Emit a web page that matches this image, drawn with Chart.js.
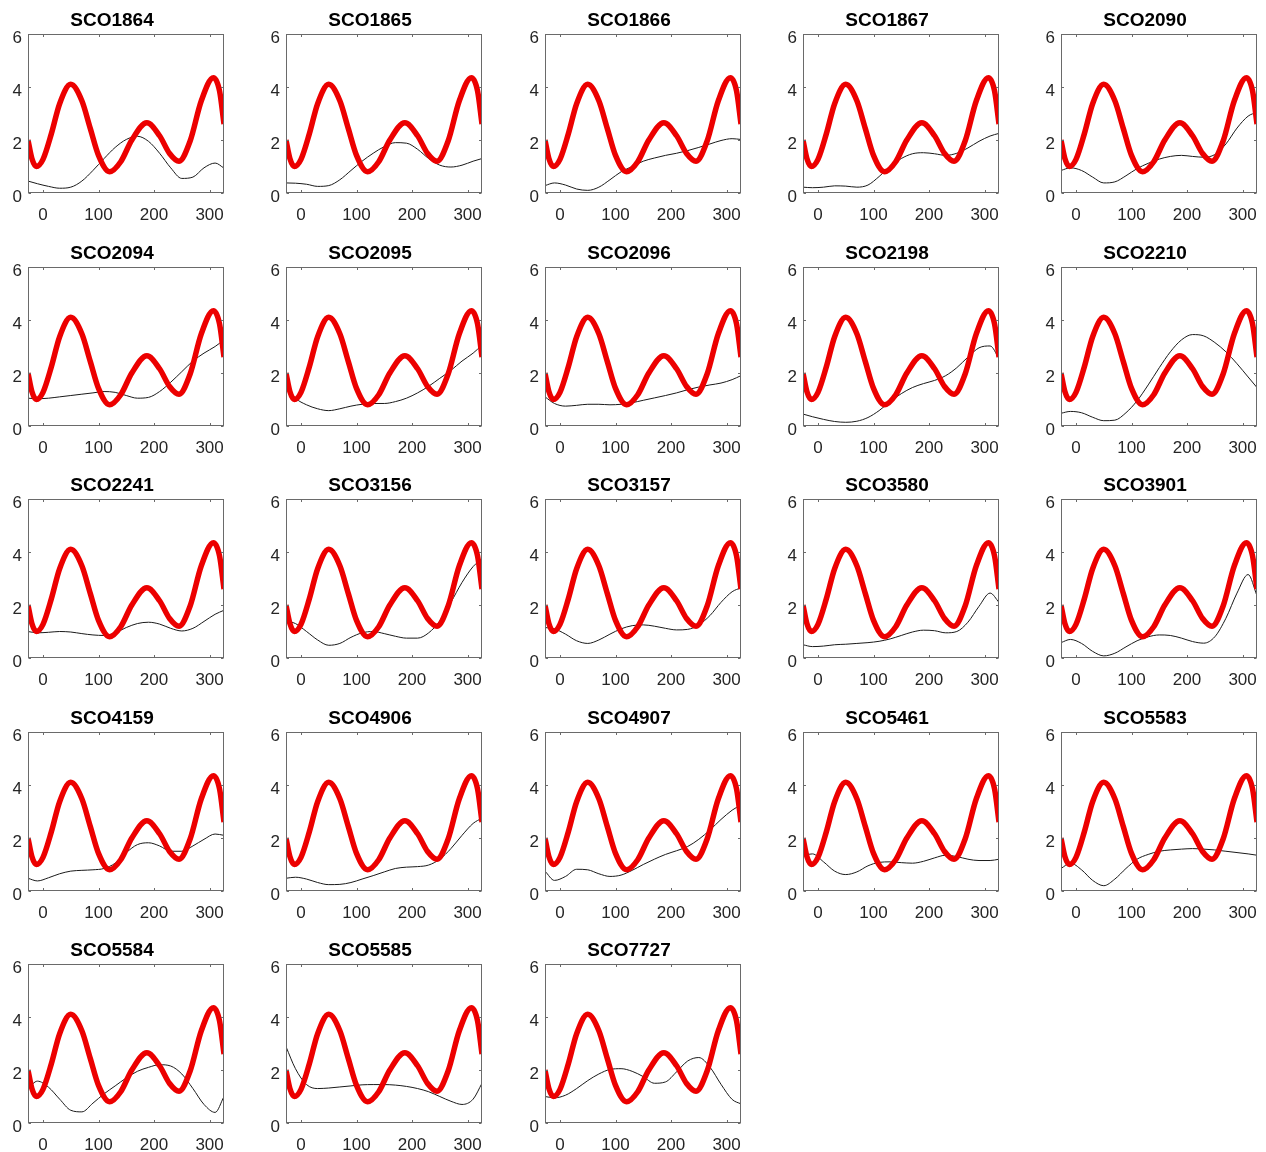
<!DOCTYPE html>
<html>
<head>
<meta charset="utf-8">
<script src="https://cdn.jsdelivr.net/npm/chart.js@4.4.1/dist/chart.umd.min.js"></script>
<style>
  html, body { margin: 0; padding: 0; background: #fff; }
  #wrap { position: relative; width: 1266px; height: 1152px; background: #fff; overflow: hidden; }
  #wrap canvas { position: absolute; }
</style>
</head>
<body>
<div id="wrap"></div>
<script>
// ---------- data ----------
const xTicks = [0, 100, 200, 300];
const yTicks = [0, 2, 4, 6];
const xGrid = [-27, -10, 10, 30, 50, 70, 90, 110, 130, 150, 170, 190, 210, 230, 250, 270, 290, 310, 326];

const redX = [-27, -20, -12, 0, 15, 30, 50, 70, 85, 100, 120, 140, 160, 187, 210, 228, 245, 265, 285, 307, 318, 326];
const redY = [2.0, 1.3, 1.0, 1.27, 2.23, 3.37, 4.1, 3.48, 2.45, 1.42, 0.8, 1.18, 2.0, 2.65, 2.16, 1.49, 1.2, 1.96, 3.47, 4.35, 3.85, 2.6];

const panelNames = ["SCO1864","SCO1865","SCO1866","SCO1867","SCO2090",
                    "SCO2094","SCO2095","SCO2096","SCO2198","SCO2210",
                    "SCO2241","SCO3156","SCO3157","SCO3580","SCO3901",
                    "SCO4159","SCO4906","SCO4907","SCO5461","SCO5583",
                    "SCO5584","SCO5585","SCO7727"];

const sco1864 = [0.45,0.35,0.25,0.18,0.22,0.45,0.85,1.3,1.72,2.02,2.14,1.95,1.5,0.95,0.55,0.6,0.95,1.13,0.94];
const sco1865 = [0.38,0.37,0.33,0.25,0.28,0.5,0.85,1.2,1.5,1.75,1.9,1.88,1.65,1.3,1.05,0.98,1.05,1.2,1.3];
const sco1866 = [0.28,0.38,0.3,0.15,0.1,0.22,0.5,0.8,1.0,1.2,1.32,1.42,1.5,1.6,1.72,1.85,1.98,2.05,2.02];
const sco1867 = [0.22,0.2,0.22,0.27,0.26,0.22,0.3,0.62,1.0,1.3,1.48,1.52,1.48,1.42,1.5,1.7,1.95,2.15,2.25];
const sco2090 = [0.85,0.95,0.85,0.6,0.38,0.42,0.65,0.92,1.12,1.28,1.38,1.42,1.38,1.35,1.45,1.85,2.45,2.9,3.05];
const sco2094 = [1.05,1.03,1.05,1.1,1.15,1.2,1.25,1.3,1.27,1.15,1.05,1.08,1.3,1.65,2.05,2.45,2.75,3.0,3.25];
const sco2095 = [1.5,1.05,0.8,0.65,0.58,0.65,0.75,0.82,0.85,0.85,0.92,1.05,1.25,1.5,1.8,2.1,2.45,2.75,3.05];
const sco2096 = [1.1,0.85,0.75,0.78,0.82,0.82,0.8,0.82,0.88,0.97,1.06,1.15,1.25,1.37,1.47,1.55,1.62,1.75,1.9];
const sco2198 = [0.45,0.35,0.25,0.17,0.14,0.18,0.32,0.58,0.92,1.22,1.45,1.6,1.72,1.9,2.2,2.6,2.95,3.02,2.55];
const sco2210 = [0.48,0.55,0.5,0.33,0.2,0.22,0.5,0.95,1.55,2.2,2.8,3.25,3.45,3.4,3.15,2.8,2.35,1.85,1.45];
const sco2241 = [1.0,0.95,0.97,1.0,0.98,0.92,0.87,0.85,0.95,1.15,1.3,1.35,1.28,1.12,1.02,1.12,1.38,1.65,1.8];
const sco3156 = [1.4,1.3,1.0,0.68,0.48,0.55,0.78,0.95,1.0,0.92,0.82,0.75,0.75,0.95,1.4,2.1,2.85,3.45,3.75];
const sco3157 = [1.15,1.1,0.9,0.65,0.55,0.68,0.9,1.1,1.22,1.25,1.2,1.12,1.06,1.08,1.25,1.6,2.1,2.5,2.65];
const sco3580 = [0.5,0.43,0.45,0.5,0.52,0.55,0.58,0.63,0.72,0.85,0.98,1.05,1.03,0.95,1.0,1.35,1.95,2.45,2.1];
const sco3901 = [0.58,0.7,0.55,0.25,0.08,0.18,0.42,0.65,0.8,0.87,0.85,0.75,0.62,0.56,0.8,1.5,2.45,3.15,2.35];
const sco4159 = [0.48,0.38,0.5,0.65,0.75,0.78,0.8,0.85,1.05,1.45,1.75,1.82,1.7,1.5,1.5,1.7,1.95,2.15,2.1];
const sco4906 = [0.48,0.52,0.45,0.32,0.24,0.25,0.32,0.45,0.58,0.72,0.85,0.9,0.92,0.98,1.2,1.6,2.1,2.55,2.75];
const sco4907 = [0.75,0.4,0.55,0.82,0.8,0.65,0.55,0.6,0.78,1.0,1.2,1.38,1.52,1.68,1.95,2.3,2.7,3.05,3.25];
const sco5461 = [1.35,1.4,1.1,0.75,0.62,0.72,0.95,1.08,1.1,1.07,1.05,1.12,1.25,1.35,1.3,1.2,1.15,1.15,1.2];
const sco5583 = [0.85,1.05,0.8,0.4,0.2,0.45,0.85,1.2,1.38,1.5,1.55,1.58,1.6,1.58,1.55,1.5,1.45,1.4,1.35];
const sco5584 = [1.3,1.58,1.35,0.9,0.48,0.42,0.75,1.1,1.4,1.7,1.95,2.1,2.2,2.15,1.85,1.3,0.7,0.4,1.0];
const sco5585 = [2.88,2.05,1.45,1.3,1.32,1.36,1.4,1.44,1.45,1.45,1.43,1.38,1.3,1.18,1.0,0.82,0.7,0.9,1.5];
const sco7727 = [1.0,0.95,1.05,1.3,1.6,1.85,2.02,2.05,1.95,1.75,1.5,1.55,1.93,2.34,2.47,2.11,1.46,0.89,0.72];

const blackSeries = [sco1864, sco1865, sco1866, sco1867, sco2090,
                     sco2094, sco2095, sco2096, sco2198, sco2210,
                     sco2241, sco3156, sco3157, sco3580, sco3901,
                     sco4159, sco4906, sco4907, sco5461, sco5583,
                     sco5584, sco5585, sco7727];

// ---------- layout ----------
const COLS = 5;
const BOX_W = 196, BOX_H = 159;
const COL_STEP = 258.25, ROW_STEP = 232.5;
const FIRST_LEFT = 28, FIRST_TOP = 34;
const LEFT_AXIS = 28, TITLE_H = 34;
const CANVAS_W = 244, CANVAS_H = 232;
const TITLE_SIZE = 19, TITLE_TOP = 9;

const FONT = "'Liberation Sans', Arial, Helvetica, sans-serif";

const boxPlugin = {
  id: 'matlabBox',
  afterDraw(chart) {
    const { ctx, chartArea: a, scales } = chart;
    ctx.save();
    ctx.strokeStyle = '#6a6a6a';
    ctx.lineWidth = 1;
    const L = Math.round(a.left) + 0.5, R = Math.round(a.right) - 0.5;
    const T = Math.round(a.top) + 0.5, B = Math.round(a.bottom) - 0.5;
    ctx.strokeRect(L, T, R - L, B - T);
    const tl = 2.5;
    ctx.beginPath();
    xTicks.forEach(v => {
      const px = Math.round(scales.x.getPixelForValue(v)) + 0.5;
      ctx.moveTo(px, B); ctx.lineTo(px, B - tl);
      ctx.moveTo(px, T); ctx.lineTo(px, T + tl);
    });
    yTicks.forEach(v => {
      const py = Math.round(scales.y.getPixelForValue(v)) + 0.5;
      ctx.moveTo(L, py); ctx.lineTo(L + tl, py);
      ctx.moveTo(R, py); ctx.lineTo(R - tl, py);
    });
    ctx.stroke();
    ctx.restore();
  }
};

const wrap = document.getElementById('wrap');

panelNames.forEach((name, i) => {
  const col = i % COLS, row = Math.floor(i / COLS);
  const boxLeft = FIRST_LEFT + col * COL_STEP;
  const boxTop = FIRST_TOP + row * ROW_STEP;
  const cv = document.createElement('canvas');
  cv.width = CANVAS_W; cv.height = CANVAS_H;
  cv.style.left = Math.round(boxLeft - LEFT_AXIS) + 'px';
  cv.style.top = Math.round(boxTop - TITLE_H) + 'px';
  cv.style.width = CANVAS_W + 'px';
  cv.style.height = CANVAS_H + 'px';
  wrap.appendChild(cv);

  const redPts = redX.map((x, k) => ({ x, y: redY[k] }));
  const blkPts = xGrid.map((x, k) => ({ x, y: blackSeries[i][k] }));

  new Chart(cv.getContext('2d'), {
    type: 'line',
    data: {
      datasets: [
        { data: redPts, borderColor: 'rgb(236,0,0)', borderWidth: 5.5, pointRadius: 0,
          cubicInterpolationMode: 'monotone', fill: false, borderCapStyle: 'butt', borderJoinStyle: 'round' },
        { data: blkPts, borderColor: '#1a1a1a', borderWidth: 1, pointRadius: 0,
          cubicInterpolationMode: 'monotone', fill: false }
      ]
    },
    options: {
      responsive: false,
      animation: false,
      devicePixelRatio: 1,
      clip: true,
      layout: { padding: { left: 0, top: 0, right: CANVAS_W - LEFT_AXIS - BOX_W, bottom: 0 } },
      plugins: {
        legend: { display: false },
        tooltip: { enabled: false },
        title: {
          display: true, text: name, color: '#000',
          font: { family: FONT, size: TITLE_SIZE, weight: 'bold', lineHeight: 1.2 },
          padding: { top: TITLE_TOP, bottom: TITLE_H - TITLE_TOP - TITLE_SIZE * 1.2 }
        }
      },
      scales: {
        x: {
          type: 'linear', min: -27, max: 326,
          afterBuildTicks: s => { s.ticks = xTicks.map(v => ({ value: v })); },
          afterFit: s => { s.height = CANVAS_H - TITLE_H - BOX_H; },
          grid: { display: false, drawTicks: false },
          border: { display: false },
          ticks: { color: '#262626', font: { family: FONT, size: 17 }, padding: 12, maxRotation: 0, autoSkip: false }
        },
        y: {
          type: 'linear', min: 0, max: 6,
          afterBuildTicks: s => { s.ticks = yTicks.map(v => ({ value: v })); },
          afterFit: s => { s.width = LEFT_AXIS; },
          grid: { display: false, drawTicks: false },
          border: { display: false },
          ticks: { color: '#262626', font: { family: FONT, size: 17 }, padding: 6, labelOffset: 4 }
        }
      }
    },
    plugins: [boxPlugin]
  });
});
</script>
</body>
</html>
